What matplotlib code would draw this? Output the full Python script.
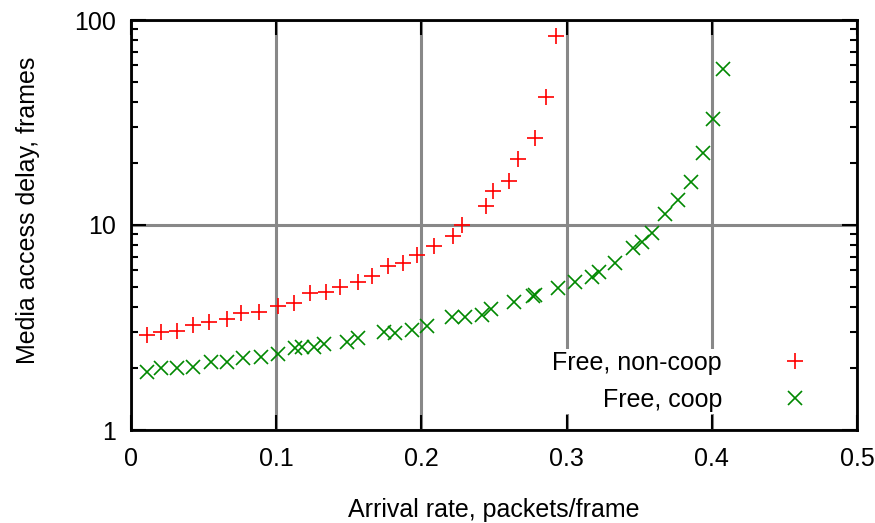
import matplotlib
matplotlib.use("Agg")
import matplotlib.pyplot as plt
from matplotlib.ticker import FixedLocator, FixedFormatter, LogLocator, NullFormatter

plt.rcParams['font.family'] = ['Liberation Sans', 'DejaVu Sans']

# ---- data ----
noncoop_x = [0.011, 0.021, 0.032, 0.043, 0.054, 0.066, 0.076, 0.088, 0.101, 0.112,
             0.123, 0.134, 0.144, 0.156, 0.166, 0.177, 0.187, 0.197, 0.209, 0.222,
             0.228, 0.2445, 0.249, 0.260, 0.2665, 0.278, 0.286, 0.293]
noncoop_y = [2.91, 3.01, 3.04, 3.25, 3.36, 3.48, 3.72, 3.76, 4.03, 4.17,
             4.66, 4.71, 4.98, 5.27, 5.64, 6.31, 6.53, 7.14, 7.90, 8.84,
             10.0, 12.4, 14.6, 16.4, 21.0, 26.6, 42.1, 83.5]

coop_x = [0.011, 0.021, 0.032, 0.043, 0.055, 0.066, 0.077, 0.0895, 0.101, 0.113,
          0.118, 0.126, 0.133, 0.149, 0.156, 0.174, 0.182, 0.1935, 0.204, 0.221,
          0.230, 0.2417, 0.248, 0.264, 0.2770, 0.2780, 0.294, 0.306, 0.3175, 0.322,
          0.333, 0.346, 0.352, 0.359, 0.368, 0.377, 0.386, 0.394, 0.401, 0.408]
coop_y = [1.92, 2.01, 2.01, 2.03, 2.15, 2.15, 2.24, 2.27, 2.35, 2.51,
          2.54, 2.54, 2.63, 2.69, 2.81, 3.01, 2.97, 3.07, 3.23, 3.56,
          3.56, 3.64, 3.89, 4.21, 4.48, 4.53, 4.93, 5.27, 5.57, 5.90,
          6.53, 7.73, 8.26, 9.14, 11.3, 13.2, 16.2, 22.5, 32.9, 57.7]

series_labels = ["Free, non-coop", "Free, coop"]
x_ticks = [0, 0.1, 0.2, 0.3, 0.4, 0.5]
x_tick_labels = ["0", "0.1", "0.2", "0.3", "0.4", "0.5"]
y_ticks = [1, 10, 100]
y_tick_labels = ["1", "10", "100"]
x_label = "Arrival rate, packets/frame"
y_label = "Media access delay, frames"

# ---- figure ----
fig = plt.figure(figsize=(8.75, 5.23), dpi=100)
ax = fig.add_axes([131/875, 1 - 430/523, (857-131)/875, (430-20)/523])

ax.plot(noncoop_x, noncoop_y, linestyle='none', marker='+', markersize=12,
        markeredgewidth=1.2, color='#ff0000', label=series_labels[0], zorder=3)
ax.plot(coop_x, coop_y, linestyle='none', marker='x', markersize=10,
        markeredgewidth=1.2, color='#008800', label=series_labels[1], zorder=3)

ax.set_yscale('log')
ax.set_xlim(0, 0.5)
ax.set_ylim(1, 100)

ax.xaxis.set_major_locator(FixedLocator(x_ticks))
ax.xaxis.set_major_formatter(FixedFormatter(x_tick_labels))
ax.yaxis.set_major_locator(FixedLocator(y_ticks))
ax.yaxis.set_major_formatter(FixedFormatter(y_tick_labels))
ax.yaxis.set_minor_locator(LogLocator(base=10, subs=range(2, 10)))
ax.yaxis.set_minor_formatter(NullFormatter())

ax.set_axisbelow(True)
ax.grid(True, which='major', color='#888888', linewidth=2.2)

ax.tick_params(which='major', direction='in', length=11, width=1.5,
               top=True, right=True, labelsize=18, colors='black')
ax.tick_params(axis='x', which='major', pad=12)
ax.tick_params(axis='y', which='major', pad=11)
ax.tick_params(which='minor', direction='in', length=5, width=1.5,
               left=True, right=True)

for s in ax.spines.values():
    s.set_linewidth(2.0)
    s.set_color('black')

ax.set_xlabel(x_label, fontsize=18)
ax.set_ylabel(y_label, fontsize=18)
ax.xaxis.set_label_coords(0.5, (430 - 510) / 410)
ax.xaxis.label.set_verticalalignment('center')
ax.yaxis.set_label_coords((28 - 131) / 726, (430 - 210) / 410)
ax.yaxis.label.set_verticalalignment('center')

leg = ax.legend(loc='lower right', bbox_to_anchor=((822 - 131) / 726, (430 - 414) / 410),
                borderaxespad=0, markerfirst=False, fontsize=18, handlelength=2.0,
                handletextpad=1.9, labelspacing=0.5, borderpad=0.1,
                frameon=True, fancybox=False, framealpha=1.0,
                facecolor='white', edgecolor='none')

fig.savefig('out.png', dpi=100)
